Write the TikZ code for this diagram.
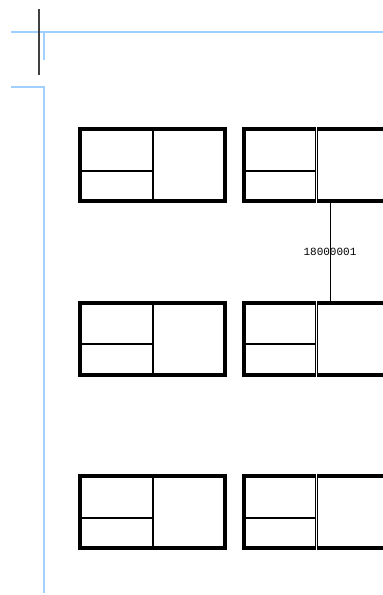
\documentclass[tikz,border=0pt]{standalone}
\usepackage{fontspec}
\newfontfamily\labelfont{Liberation Mono}
\usepackage{xcolor}
\definecolor{cGuide}{HTML}{9FD0FF}
\definecolor{cMark}{HTML}{404040}
\usetikzlibrary{positioning}
\tikzset{
  frame-box/.style={draw=black,line width=4pt,inner sep=0pt,
    minimum width=145pt,minimum height=72pt},
  split-line/.style={draw=black,line width=2pt},
  split-double/.style={draw=black,line width=1.4pt,double,double distance=1pt},
  guide/.style={draw=cGuide,line width=1.3pt},
  mark-line/.style={draw=cMark,line width=1.5pt},
  link/.style={draw=black,line width=1pt},
  link-label/.style={font=\labelfont\fontsize{11}{12}\selectfont,inner sep=1pt},
}

\begin{document}
\begin{tikzpicture}[x=1pt,y=-1pt]
  \useasboundingbox (0,0) rectangle (383,595);
  % guide lines
  \draw[guide] (11,32) -- (383,32);
  \draw[guide] (44,32) -- (44,60);
  \draw[guide] (11,87) -| (44,593);
  \draw[mark-line] (39,9) -- (39,75);

  \node[frame-box] (r1l) at (152.5,165) {};
  \node[frame-box,right=15pt of r1l] (r1r) {};
  \node[frame-box,below=97.5pt of r1l] (r2l) {};
  \node[frame-box,right=15pt of r2l] (r2r) {};
  \node[frame-box,below=97.5pt of r2l] (r3l) {};
  \node[frame-box,right=15pt of r3l] (r3r) {};

  % inner splits
  \draw[split-line] (r1l.north) -- (r1l.south);
  \draw[split-line] ([yshift=-6pt]r1l.west) -- ([yshift=-6pt]r1l.center);
  \draw[split-double] (r1r.north) -- (r1r.south);
  \draw[split-line] ([yshift=-6pt]r1r.west) -- ([yshift=-6pt,xshift=-1pt]r1r.center);
  \draw[split-line] (r2l.north) -- (r2l.south);
  \draw[split-line] ([yshift=-5pt]r2l.west) -- ([yshift=-5pt]r2l.center);
  \draw[split-double] (r2r.north) -- (r2r.south);
  \draw[split-line] ([yshift=-5pt]r2r.west) -- ([yshift=-5pt,xshift=-1pt]r2r.center);
  \draw[split-line] (r3l.north) -- (r3l.south);
  \draw[split-line] ([yshift=-6pt]r3l.west) -- ([yshift=-6pt]r3l.center);
  \draw[split-double] (r3r.north) -- (r3r.south);
  \draw[split-line] ([yshift=-6pt]r3r.west) -- ([yshift=-6pt,xshift=-1pt]r3r.center);

  \draw[link] ([xshift=13.5pt]r1r.south) -- ([xshift=13.5pt]r2r.north)
    node[midway,link-label] {18000001};
\end{tikzpicture}
\end{document}
